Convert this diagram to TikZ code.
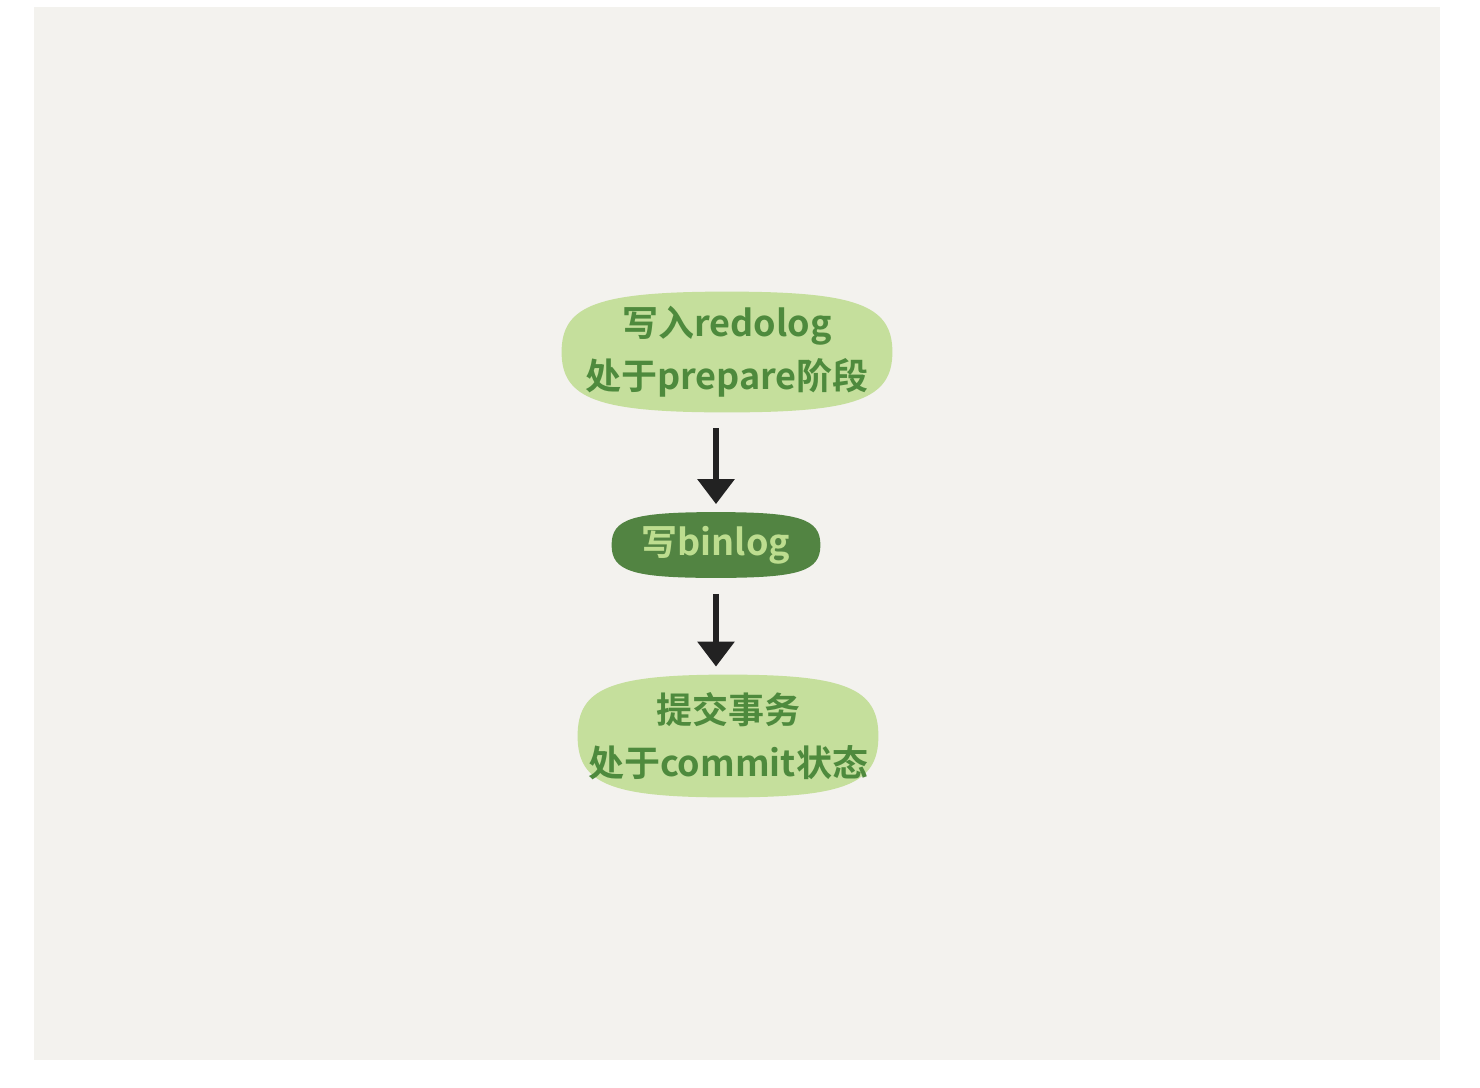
\documentclass[tikz,border=0pt]{standalone}
\usepackage{fontspec}
\newfontfamily\cjk{Noto Sans CJK SC}[BoldFont={Noto Sans CJK SC Bold}]
\usetikzlibrary{arrows.meta,calc,backgrounds}
\definecolor{bgpanel}{HTML}{F3F2EE}
\definecolor{lightgreen}{HTML}{C5DF9C}
\definecolor{darkgreen}{HTML}{528442}
\definecolor{textdark}{HTML}{4E8A3D}
\definecolor{textlight}{HTML}{BDDD8F}
\definecolor{arrowcol}{HTML}{222222}
\newcommand\drawblob[3]{%
  \fill[#2] (#1.west)
    .. controls ($(#1.west)!#3!(#1.north west)$) and ($(#1.north)!#3!(#1.north west)$) .. (#1.north)
    .. controls ($(#1.north)!#3!(#1.north east)$) and ($(#1.east)!#3!(#1.north east)$) .. (#1.east)
    .. controls ($(#1.east)!#3!(#1.south east)$) and ($(#1.south)!#3!(#1.south east)$) .. (#1.south)
    .. controls ($(#1.south)!#3!(#1.south west)$) and ($(#1.west)!#3!(#1.south west)$) .. (#1.west) -- cycle;}
\begin{document}
\begin{tikzpicture}[x=0.5pt,y=-0.5pt,
  lightblob/.style={draw=none,text=textdark,
    font=\cjk\bfseries\fontsize{18pt}{26.5pt}\selectfont,align=center,inner sep=0pt},
  darkblob/.style={draw=none,text=textlight,
    font=\cjk\bfseries\fontsize{18pt}{24pt}\selectfont,align=center,inner sep=0pt},
  flow/.style={draw=arrowcol,line width=3pt,-{Triangle[width=18pt,length=12.5pt]},
    shorten <=8pt,shorten >=4pt}]
\useasboundingbox (0,0) rectangle (1480,1088);
\node[lightblob,minimum width=165pt,minimum height=60pt] (n1) at (727,352)
  {写入redolog\\处于prepare阶段};
\node[darkblob,minimum width=104pt,minimum height=32.5pt] (n2) at (716,545)
  {写binlog};
\node[lightblob,minimum width=150pt,minimum height=61pt] (n3) at (728,736)
  {提交事务\\处于commit状态};
\begin{scope}[on background layer]
\fill[white] (0,0) rectangle (1480,1088);
\fill[bgpanel] (34,7) rectangle (1440,1060);
\drawblob{n1}{lightgreen}{0.78}
\drawblob{n2}{darkgreen}{0.8}
\drawblob{n3}{lightgreen}{0.78}
\end{scope}
\draw[flow] (n1.south -| n2.north) -- (n2.north);
\draw[flow] (n2.south) -- (n3.north -| n2.south);
\end{tikzpicture}
\end{document}
